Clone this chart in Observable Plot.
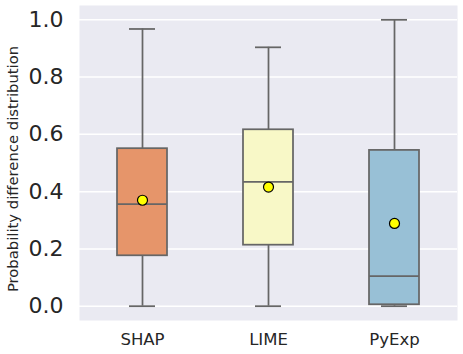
<!DOCTYPE html>
<html>
<head>
<meta charset="utf-8">
<script src="https://cdn.jsdelivr.net/npm/d3@7"></script>
<script src="https://cdn.jsdelivr.net/npm/@observablehq/plot@0.6"></script>
<style>
  html, body { margin: 0; padding: 0; background: #fff; }
  svg { display: block; }
</style>
</head>
<body>
<div id="chart"></div>
<script>
const categories = ["SHAP", "LIME", "PyExp"];
const whiskerLow = [0.0, 0.0, 0.0];
const q1 = [0.176, 0.213, 0.005];
const median = [0.356, 0.434, 0.105];
const q3 = [0.550, 0.616, 0.544];
const whiskerHigh = [0.968, 0.904, 1.0];
const means = [0.370, 0.416, 0.289];
const yTicks = [0.0, 0.2, 0.4, 0.6, 0.8, 1.0];
const palette = ["#e6956a", "#f8f8c7", "#98c0d6"];
const yLabel = "Probability difference distribution";

const data = categories.map((c, i) => ({
  name: c, lo: whiskerLow[i], q1: q1[i], med: median[i], q3: q3[i], hi: whiskerHigh[i], mean: means[i]
}));

const lineColor = "#666666";
const font = "DejaVu Sans";

const chart = Plot.plot({
  width: 463,
  height: 354,
  marginLeft: 79,
  marginRight: 6,
  marginTop: 5,
  marginBottom: 34,
  style: { fontFamily: font, background: "#ffffff" },
  x: { domain: categories, padding: 0, axis: null },
  y: { domain: [-0.05, 1.05], axis: null },
  color: { domain: categories, range: palette },
  marks: [
    Plot.frame({ fill: "#eaeaf2", stroke: null }),
    Plot.gridY(yTicks, { stroke: "#ffffff", strokeOpacity: 1, strokeWidth: 1.5 }),
    Plot.axisY(yTicks, { tickSize: 0, tickPadding: 16, fontSize: 22, tickFormat: d3.format(".1f"), fill: "#262626", label: null }),
    Plot.axisX({ tickSize: 0, tickPadding: 13, fontSize: 16.5, fill: "#262626", label: null }),
    Plot.text([yLabel], { frameAnchor: "left", textAnchor: "middle", rotate: -90, dx: -66, dy: 6, fontSize: 14.8, fill: "#262626" }),
    Plot.ruleX(data, { x: "name", y1: "lo", y2: "q1", stroke: lineColor, strokeWidth: 1.75 }),
    Plot.ruleX(data, { x: "name", y1: "q3", y2: "hi", stroke: lineColor, strokeWidth: 1.75 }),
    Plot.tickY(data, { x: "name", y: "lo", stroke: lineColor, strokeWidth: 1.75, insetLeft: 50, insetRight: 50 }),
    Plot.tickY(data, { x: "name", y: "hi", stroke: lineColor, strokeWidth: 1.75, insetLeft: 50, insetRight: 50 }),
    Plot.barY(data, { x: "name", y1: "q1", y2: "q3", fill: "name", stroke: lineColor, strokeWidth: 1.75, insetLeft: 38, insetRight: 38 }),
    Plot.tickY(data, { x: "name", y: "med", stroke: lineColor, strokeWidth: 1.75, insetLeft: 38, insetRight: 38 }),
    Plot.dot(data, { x: "name", y: "mean", r: 5, fill: "#ffff00", stroke: "#000000", strokeWidth: 1.2 })
  ]
});
document.getElementById("chart").appendChild(chart);
</script>
</body>
</html>
